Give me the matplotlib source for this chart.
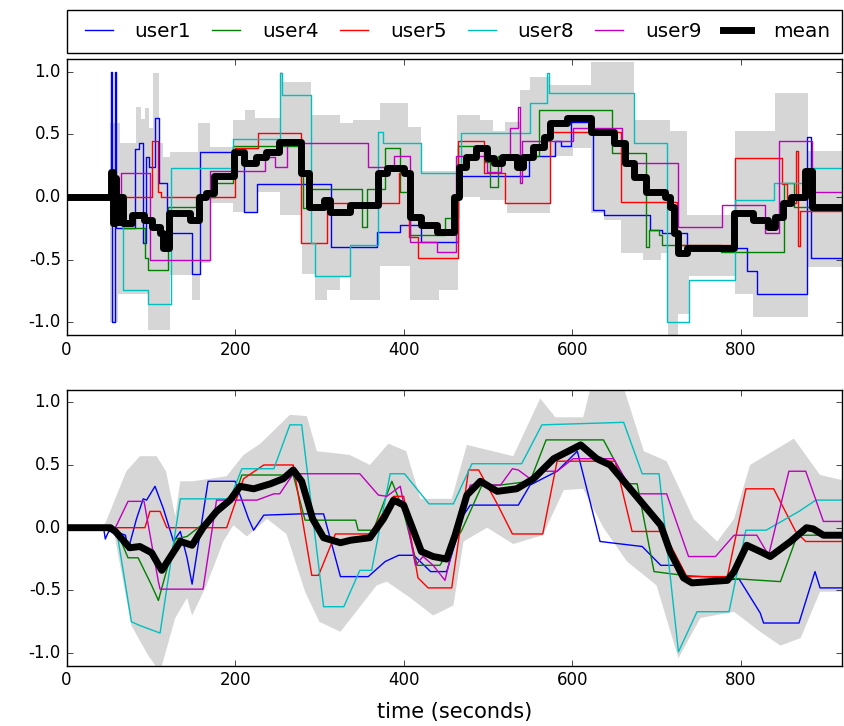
import numpy as np
import matplotlib
matplotlib.use('Agg')
import matplotlib.pyplot as plt
from matplotlib import cbook

# raw ratings (top panel), step values starting at each time
user1_t = [0, 53, 54, 58, 59, 81, 86, 91, 94, 98, 105, 110, 119, 149, 158, 211, 226, 314, 368, 396,
           421, 465, 549, 579, 587, 598, 625, 638, 692, 706, 736, 807, 819, 879, 883, 920]
user1_v = [0, 1.0, -1.0, 1.0, -0.25, 0.38, 0.43, -0.37, 0.32, 0.24, 0.63, 0.11, -0.29, -0.61, 0.36, -0.12, 0.10, -0.40, -0.28, -0.22,
           -0.36, 0.17, 0.33, 0.45, 0.41, 0.60, -0.10, -0.14, -0.26, -0.29, -0.41, -0.59, -0.77, 0.48, -0.49, -0.49]

user4_t = [0, 67, 93, 97, 121, 154, 176, 198, 281, 285, 350, 356, 378, 396, 408, 449, 465, 497, 503, 512,
           560, 647, 687, 691, 703, 707, 776, 851, 863, 920]
user4_v = [0, -0.25, -0.49, -0.58, -0.08, 0.0, 0.11, 0.41, -0.09, 0.06, -0.24, 0.06, 0.39, 0.04, -0.30, -0.17, 0.41, 0.28, 0.08, 0.33,
           0.69, 0.35, -0.40, -0.26, -0.30, -0.38, -0.44, 0.11, -0.08, -0.08]

user5_t = [0, 102, 108, 112, 200, 227, 278, 309, 394, 406, 417, 465, 495, 520, 574, 658, 724, 793, 849, 855,
           866, 868, 870, 920]
user5_v = [0, 0.45, 0.04, 0.0, 0.39, 0.51, -0.37, -0.05, 0.19, -0.32, -0.49, 0.45, 0.19, -0.05, 0.52, -0.04, -0.38, 0.31, 0.10, -0.05,
           0.37, -0.39, -0.11, -0.11]

user8_t = [0, 67, 97, 124, 198, 253, 256, 290, 295, 336, 370, 376, 420, 468, 550, 570, 573, 673, 713, 738,
           793, 839, 880, 920]
user8_v = [0, -0.74, -0.85, 0.23, 0.46, 0.99, 0.81, -0.37, -0.63, -0.38, 0.52, 0.43, 0.19, 0.51, 0.75, 0.99, 0.83, 0.43, -1.0, -0.66,
           -0.02, 0.11, 0.23, 0.23]

user9_t = [0, 65, 99, 170, 236, 247, 261, 358, 388, 407, 439, 462, 499, 515, 526, 536, 538, 540, 601, 659,
           726, 778, 829, 845, 885, 920]
user9_v = [0, 0.19, -0.5, 0.21, 0.32, 0.24, 0.43, 0.24, 0.33, -0.36, -0.44, 0.33, 0.2, 0.33, 0.55, 0.72, 0.11, 0.45, 0.55, 0.27,
           -0.24, -0.06, -0.29, 0.45, 0.04, 0.04]

mean_t = [0, 53, 55, 57, 59, 62, 67, 78, 92, 102, 111, 115, 122, 147, 157, 165, 175, 199, 211, 225,
          237, 252, 278, 288, 305, 313, 336, 370, 380, 400, 407, 420, 440, 460, 466, 474, 486, 499, 507, 517,
          535, 542, 553, 567, 574, 594, 622, 650, 662, 673, 688, 710, 716, 721, 725, 736, 792, 814, 832, 840,
          850, 860, 876, 884, 920]
mean_v = [0, 0.2, -0.21, 0.15, -0.2, 0.0, -0.21, -0.14, -0.18, -0.24, -0.29, -0.41, -0.13, -0.18, 0.0, 0.03, 0.17, 0.36, 0.27, 0.32,
          0.36, 0.44, 0.19, -0.08, -0.02, -0.12, -0.06, 0.19, 0.23, 0.19, -0.16, -0.22, -0.28, 0.0, 0.24, 0.32, 0.39, 0.31, 0.27, 0.32,
          0.24, 0.32, 0.40, 0.48, 0.59, 0.63, 0.52, 0.43, 0.27, 0.16, 0.04, 0.0, -0.08, -0.29, -0.45, -0.41, -0.13, -0.18, -0.24, -0.16,
          -0.05, 0.0, 0.21, -0.08, -0.08]

band_hi_t = [0, 52, 64, 82, 88, 93, 98, 103, 110, 115, 123, 156, 170, 198, 212, 224, 253, 256, 290, 325,
             340, 372, 405, 420, 463, 491, 506, 520, 538, 550, 574, 622, 673, 716, 736, 793, 840, 880, 920]
band_hi_v = [0, 0.59, 0.43, 0.72, 0.62, 0.71, 0.55, 0.99, 0.43, 0.32, 0.36, 0.59, 0.40, 0.61, 0.69, 0.63, 1.0, 0.92, 0.65, 0.59,
             0.61, 0.75, 0.56, 0.21, 0.65, 0.61, 0.53, 0.60, 0.85, 0.96, 0.89, 1.08, 0.61, 0.53, -0.14, 0.53, 0.83, 0.37, 0.37]
band_lo_t = [0, 52, 61, 97, 123, 149, 158, 170, 198, 226, 253, 279, 295, 309, 325, 336, 372, 407, 442, 465,
             491, 522, 574, 601, 622, 638, 658, 684, 705, 714, 726, 738, 793, 815, 880, 920]
band_lo_v = [0, -1.0, -0.77, -1.06, -0.62, -0.82, -0.53, -0.05, -0.12, 0.04, -0.14, -0.61, -0.82, -0.74, -0.63, -0.82, -0.55, -0.82, -0.74, 0.0,
             -0.02, -0.13, 0.33, 0.39, -0.13, -0.18, -0.45, -0.5, -0.45, -1.1, -0.93, -0.63, -0.77, -0.96, -0.56, -0.56]

# smoothed ratings (bottom panel), polyline vertices
s_user1_t = [0, 44, 46, 50, 58, 70, 73, 83, 91, 95, 105, 115, 127, 135, 143, 149, 168, 200, 216, 222,
             234, 277, 305, 325, 358, 378, 394, 412, 432, 451, 471, 479, 536, 550, 582, 606, 633, 683, 705, 726,
             736, 798, 823, 827, 869, 888, 894, 920]
s_user1_v = [0, 0, -0.09, -0.03, -0.03, -0.06, -0.18, 0.07, 0.23, 0.22, 0.33, 0.15, -0.11, -0.03, -0.24, -0.45, 0.37, 0.37, 0.07, -0.02,
             0.10, 0.11, 0.11, -0.39, -0.39, -0.27, -0.22, -0.22, -0.35, -0.35, 0.10, 0.18, 0.18, 0.34, 0.45, 0.61, -0.11, -0.15, -0.30, -0.30,
             -0.43, -0.41, -0.68, -0.76, -0.76, -0.35, -0.48, -0.48]

s_user4_t = [0, 58, 73, 85, 101, 109, 129, 143, 198, 208, 269, 283, 343, 346, 364, 386, 399, 416, 443, 469,
             493, 515, 550, 569, 637, 665, 677, 697, 732, 847, 867, 920]
s_user4_v = [0, 0, -0.24, -0.24, -0.46, -0.58, -0.09, -0.07, 0.22, 0.42, 0.42, 0.06, 0.06, -0.02, -0.02, 0.37, 0.15, -0.30, -0.30, -0.02,
             0.34, 0.34, 0.37, 0.70, 0.70, 0.35, 0.35, -0.35, -0.38, -0.43, -0.06, -0.06]

s_user5_t = [0, 93, 99, 111, 119, 190, 210, 234, 269, 291, 299, 319, 360, 388, 400, 417, 429, 457, 477, 489,
             511, 529, 565, 582, 651, 671, 708, 736, 784, 806, 839, 865, 877, 920]
s_user5_v = [0, 0, 0.13, 0.13, 0.0, 0.0, 0.39, 0.50, 0.50, -0.38, -0.38, -0.05, -0.05, 0.25, 0.25, -0.40, -0.48, -0.48, 0.46, 0.46,
             0.19, -0.05, -0.05, 0.53, 0.53, -0.03, -0.03, -0.39, -0.39, 0.31, 0.31, -0.03, -0.11, -0.11]

s_user8_t = [0, 59, 77, 87, 111, 135, 194, 208, 246, 265, 279, 305, 329, 348, 362, 384, 401, 430, 459, 481,
             540, 564, 661, 683, 703, 726, 748, 786, 806, 830, 869, 889, 920]
s_user8_v = [0, 0, -0.75, -0.78, -0.84, 0.23, 0.23, 0.47, 0.47, 0.82, 0.82, -0.63, -0.63, -0.34, -0.34, 0.43, 0.43, 0.19, 0.19, 0.51,
             0.51, 0.82, 0.84, 0.43, 0.43, -0.99, -0.67, -0.67, -0.02, -0.02, 0.13, 0.22, 0.22]

s_user9_t = [0, 58, 73, 92, 109, 111, 162, 178, 226, 246, 253, 269, 348, 370, 380, 396, 414, 423, 435, 449,
             467, 479, 515, 529, 536, 550, 565, 582, 601, 649, 673, 712, 738, 770, 792, 819, 833, 857, 877, 898,
             920]
s_user9_v = [0, 0, 0.21, 0.21, -0.43, -0.49, -0.49, 0.22, 0.22, 0.27, 0.27, 0.43, 0.43, 0.26, 0.25, 0.33, -0.30, -0.23, -0.30, -0.42,
             0.07, 0.34, 0.34, 0.47, 0.46, 0.39, 0.45, 0.45, 0.55, 0.55, 0.27, 0.27, -0.23, -0.23, -0.06, -0.06, -0.22, 0.45, 0.45, 0.05,
             0.05]

s_mean_t = [0, 52, 58, 75, 87, 101, 113, 135, 149, 162, 178, 194, 206, 222, 242, 257, 269, 279, 292, 305,
            325, 337, 360, 376, 388, 400, 412, 421, 435, 451, 461, 475, 491, 511, 534, 554, 578, 610, 629, 645,
            665, 685, 705, 716, 732, 742, 784, 792, 807, 823, 835, 859, 878, 886, 898, 920]
s_mean_v = [0, 0, -0.03, -0.16, -0.15, -0.20, -0.34, -0.11, -0.14, 0.0, 0.13, 0.22, 0.33, 0.31, 0.35, 0.39, 0.46, 0.37, 0.07, -0.08,
            -0.12, -0.10, -0.08, 0.07, 0.22, 0.18, -0.03, -0.19, -0.23, -0.25, -0.06, 0.26, 0.37, 0.29, 0.31, 0.39, 0.55, 0.66, 0.55, 0.50,
            0.34, 0.18, 0.02, -0.19, -0.40, -0.44, -0.42, -0.35, -0.14, -0.19, -0.23, -0.11, 0.0, -0.01, -0.06, -0.06]

s_hi_t = [0, 42, 47, 71, 87, 107, 118, 129, 135, 150, 190, 210, 230, 265, 285, 297, 336, 360, 382, 403,
          420, 457, 475, 530, 562, 580, 613, 625, 657, 685, 712, 744, 772, 792, 811, 863, 894, 920]
s_hi_v = [0, 0, 0.05, 0.45, 0.57, 0.57, 0.45, 0.09, 0.37, 0.37, 0.41, 0.58, 0.67, 0.90, 0.89, 0.61, 0.58, 0.50, 0.67, 0.61,
          0.23, 0.23, 0.66, 0.57, 1.03, 0.88, 0.88, 1.2, 1.2, 0.61, 0.53, 0.07, -0.11, 0.07, 0.50, 0.71, 0.42, 0.38]
s_lo_t = [0, 42, 57, 77, 97, 111, 129, 143, 149, 166, 186, 198, 214, 238, 261, 283, 300, 325, 368, 380,
          408, 435, 459, 471, 499, 530, 565, 590, 613, 637, 665, 700, 726, 752, 792, 823, 847, 871, 894, 920]
s_lo_v = [0, 0, -0.06, -0.78, -1.02, -1.15, -0.72, -0.56, -0.70, -0.46, -0.11, 0.02, -0.07, 0.07, -0.05, -0.51, -0.75, -0.83, -0.46, -0.43,
          -0.56, -0.70, -0.62, -0.11, 0.0, -0.13, -0.06, 0.30, 0.31, 0.0, -0.27, -0.46, -1.04, -0.72, -0.67, -0.83, -0.94, -0.88, -0.51, -0.51]

labels = ['user1', 'user4', 'user5', 'user8', 'user9']
colors = ['b', 'g', 'r', 'c', 'm']
raw = [(user1_t, user1_v), (user4_t, user4_v), (user5_t, user5_v), (user8_t, user8_v), (user9_t, user9_v)]
smooth = [(s_user1_t, s_user1_v), (s_user4_t, s_user4_v), (s_user5_t, s_user5_v),
          (s_user8_t, s_user8_v), (s_user9_t, s_user9_v)]

plt.style.use('classic')
plt.rcParams['axes.unicode_minus'] = False

fig = plt.figure(figsize=(8.44, 7.26), dpi=100, facecolor='white')
ax1 = fig.add_axes([0.0788, 0.5386, 0.9188, 0.3801])
ax2 = fig.add_axes([0.0788, 0.0831, 0.9188, 0.3801])

# top: step band + step lines
hi = cbook.pts_to_poststep(band_hi_t, band_hi_v)
lo = cbook.pts_to_poststep(band_lo_t, band_lo_v)
ax1.fill(np.r_[hi[0], lo[0][::-1]], np.r_[hi[1], lo[1][::-1]], color='0.84', lw=0)
for (t, v), lab, c in zip(raw, labels, colors):
    ax1.plot(t, v, color=c, lw=1, drawstyle='steps-post', label=lab)
ax1.plot(mean_t, mean_v, color='k', lw=5, drawstyle='steps-post', label='mean')

# bottom: smoothed
ax2.fill(np.r_[s_hi_t, s_lo_t[::-1]], np.r_[s_hi_v, s_lo_v[::-1]], color='0.84', lw=0)
for (t, v), c in zip(smooth, colors):
    ax2.plot(t, v, color=c, lw=1)
ax2.plot(s_mean_t, s_mean_v, color='k', lw=5)

for ax in (ax1, ax2):
    ax.set_xlim(0, 920)
    ax.set_ylim(-1.1, 1.1)
    ax.set_yticks([-1.0, -0.5, 0.0, 0.5, 1.0])
    ax.set_xticks([0, 200, 400, 600, 800])

ax2.set_xlabel('time (seconds)', fontsize=15, labelpad=9)

ax1.legend(bbox_to_anchor=(0., 1.022, 1., .102), loc=3, ncol=6, mode='expand',
           borderaxespad=0., borderpad=0.6)

fig.savefig('out.png', dpi=100, facecolor='white')
